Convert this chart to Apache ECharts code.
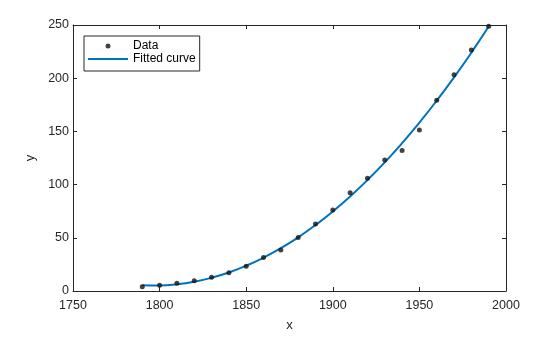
<!DOCTYPE html>
<html>
<head>
<meta charset="utf-8">
<script src="https://cdn.jsdelivr.net/npm/echarts@6/dist/echarts.min.js"></script>
<style>
  html, body { margin: 0; padding: 0; background: #fff; }
  #chart { width: 560px; height: 337px; }
</style>
</head>
<body>
<div id="chart"></div>
<script>
// US census population (millions) by decade
const years = [1790, 1800, 1810, 1820, 1830, 1840, 1850, 1860, 1870, 1880, 1890,
               1900, 1910, 1920, 1930, 1940, 1950, 1960, 1970, 1980, 1990];
const population = [3.929, 5.308, 7.240, 9.638, 12.866, 17.069, 23.192, 31.443, 38.558, 50.189, 62.980,
                    76.212, 92.228, 106.021, 123.203, 132.165, 151.326, 179.323, 203.302, 226.542, 248.710];
// quadratic fit evaluated at each census year
const fitted = [5.45, 5.24, 6.34, 8.73, 12.43, 17.42, 23.72, 31.32, 40.22, 50.42, 61.93,
                74.73, 88.84, 104.25, 120.95, 138.96, 158.27, 178.89, 200.80, 224.01, 248.53];
const xTicks = [1750, 1800, 1850, 1900, 1950, 2000];
const yTicks = [0, 50, 100, 150, 200, 250];

const axisColor = '#262626';
const font = 'Liberation Sans, Arial, sans-serif';

const chart = echarts.init(document.getElementById('chart'), null, { renderer: 'canvas' });

function axisBase(extra) {
  return Object.assign({
    axisLine: { show: true, onZero: false, lineStyle: { color: axisColor, width: 1 } },
    axisTick: { show: true, inside: true, length: 4, lineStyle: { color: axisColor } },
    splitLine: { show: false },
    axisLabel: { show: false }
  }, extra);
}

chart.setOption({
  animation: false,
  backgroundColor: '#fff',
  grid: { left: 73, right: 54, top: 25, bottom: 39, containLabel: false },
  xAxis: [
    axisBase({
      type: 'value', min: xTicks[0], max: xTicks[xTicks.length - 1], interval: 50,
      name: 'x', nameLocation: 'middle', nameGap: 28,
      nameTextStyle: { color: axisColor, fontFamily: font, fontSize: 13 },
      axisLabel: {
        show: true, color: axisColor, fontFamily: font, fontSize: 12.5, margin: 8,
        formatter: v => String(v)
      }
    }),
    axisBase({
      type: 'value', position: 'top', min: xTicks[0], max: xTicks[xTicks.length - 1], interval: 50
    })
  ],
  yAxis: [
    axisBase({
      type: 'value', min: yTicks[0], max: yTicks[yTicks.length - 1], interval: 50,
      name: 'y', nameLocation: 'middle', nameGap: 28,
      nameTextStyle: { color: axisColor, fontFamily: font, fontSize: 13 },
      axisLabel: {
        show: true, color: axisColor, fontFamily: font, fontSize: 12.5, margin: 4,
        verticalAlign: 'middle', padding: [0, 0, 7, 0],
        formatter: v => String(v)
      }
    }),
    axisBase({
      type: 'value', position: 'right', min: yTicks[0], max: yTicks[yTicks.length - 1], interval: 50
    })
  ],
  legend: {
    orient: 'vertical',
    left: 84, top: 36,
    padding: [4, 4, 6, 3],
    itemGap: 1,
    itemWidth: 40, itemHeight: 5,
    backgroundColor: '#fff',
    borderColor: axisColor, borderWidth: 1, borderRadius: 0,
    textStyle: { color: '#000', fontFamily: font, fontSize: 12, lineHeight: 12 },
    data: [
      { name: 'Data', icon: 'circle' },
      { name: 'Fitted curve', itemStyle: { opacity: 0, borderWidth: 0 } }
    ]
  },
  series: [
    {
      name: 'Fitted curve',
      type: 'line',
      data: years.map((y, i) => [y, fitted[i]]),
      smooth: true,
      symbol: 'none',
      showSymbol: false,
      lineStyle: { color: '#0072BD', width: 2 },
      itemStyle: { color: '#0072BD' },
      z: 2
    },
    {
      name: 'Data',
      type: 'scatter',
      data: years.map((y, i) => [y, population[i]]),
      symbol: 'circle',
      symbolSize: 5,
      itemStyle: { color: '#141414' },
      z: 3
    }
  ]
});
</script>
</body>
</html>
